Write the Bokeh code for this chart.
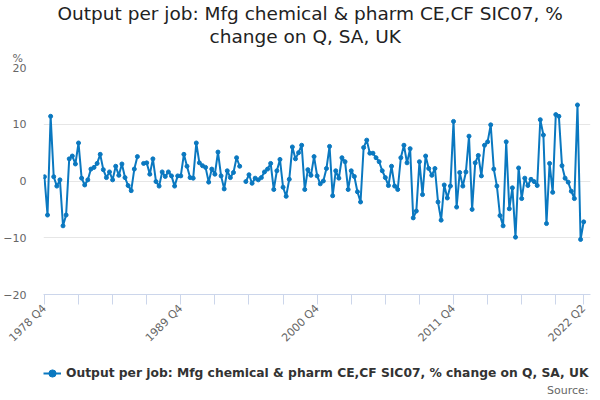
import math
from bokeh.plotting import figure
from bokeh.layouts import column
from bokeh.models import (ColumnDataSource, FixedTicker, Legend, LegendItem,
                          Title, Label, Range1d)
from bokeh.embed import file_html
from bokeh.resources import INLINE

# quarterly periods, 1978 Q4 .. 2022 Q2
quarters = []
yr, qt = 1978, 4
while (yr, qt) <= (2022, 2):
    quarters.append(f"{yr} Q{qt}")
    qt += 1
    if qt > 4:
        yr, qt = yr + 1, 1

# % change on previous quarter (None = no value)
pct_change = [
    0.75, -6.0, 11.4, 0.75, -0.9, 0.2, -7.9, -6.0, 3.9, 4.4,
    3.0, 6.7, 0.5, -0.7, 0.2, 2.1, 2.4, 3.1, 4.7, 2.0,
    0.6, 1.6, 0.2, 2.6, 1.0, 3.0, 0.6, -0.8, -1.7, 2.1,
    4.3, None, 3.1, 3.2, 1.2, 3.9, -0.1, -0.9, 1.6, 0.8,
    1.6, 0.9, -0.9, 0.9, 0.9, 4.7, 2.6, 0.6, 0.5, 6.7,
    3.2, 2.7, 2.4, -0.2, 2.1, 1.2, 5.1, 0.9, -1.4, 1.8,
    0.6, 1.5, 4.1, 2.6, None, -0.1, 1.1, -0.4, 0.5, 0.2,
    0.6, 1.6, 2.1, 3.1, -1.5, 1.8, 3.8, -1.1, -2.7, 0.3,
    6.0, 3.9, 5.0, 6.3, -1.5, 2.0, 1.0, 4.3, 0.9, -0.5,
    0.0, 2.2, 6.1, -2.6, 1.8, 0.5, 4.1, 3.4, -1.5, 1.8,
    0.8, -1.9, -3.7, 5.9, 7.2, 4.9, 4.9, 4.1, 3.4, 1.8,
    0.6, -0.8, 2.6, -0.9, -1.5, 4.1, 6.3, 3.2, 5.7, -6.5,
    -5.3, 3.4, -2.4, 4.4, 2.2, 1.0, 2.2, -3.7, -6.9, -0.7,
    -3.0, -0.9, 10.5, -4.6, 1.5, -0.9, 1.6, 7.9, -5.0, 3.2,
    4.5, 0.9, 6.3, 6.9, 9.9, 2.1, -0.9, -6.1, -7.9, 6.9,
    -4.9, -1.2, -9.9, 2.3, -3.1, 0.5, -0.8, 0.3, -0.1, -0.8,
    10.8, 8.1, -7.5, 3.1, -2.0, 11.7, 11.4, 2.7, 0.5, -0.2,
    -1.8, -3.1, 13.4, -10.3, -7.2,
]

tick_labels = ["1978 Q4", "1989 Q4", "2000 Q4", "2011 Q4", "2022 Q2"]
series_name = "Output per job: Mfg chemical & pharm CE,CF SIC07, % change on Q, SA, UK"
title_lines = ["Output per job: Mfg chemical & pharm CE,CF SIC07, %",
               "change on Q, SA, UK"]

BLUE = "#0a78c0"
GREY = "#666666"
FONT = "DejaVu Sans"
W = 596

xs = list(range(len(quarters)))
ys = [math.nan if v is None else v for v in pct_change]
src = ColumnDataSource(dict(x=xs, y=ys, q=quarters))
pts = ColumnDataSource(dict(x=[x for x, v in zip(xs, pct_change) if v is not None],
                            y=[v for v in pct_change if v is not None]))

p = figure(width=W, height=352, output_backend="svg", toolbar_location=None,
           x_range=Range1d(-0.3, len(quarters) + 1.2), y_range=Range1d(-20, 20),
           min_border_left=43, min_border_right=6, min_border_top=67,
           min_border_bottom=55)
p.outline_line_color = None

p.line("x", "y", source=src, line_color=BLUE, line_width=2)
p.scatter("x", "y", source=pts, size=4, color=BLUE)

# y axis
p.yaxis.ticker = FixedTicker(ticks=[-20, -10, 0, 10, 20])
p.yaxis.axis_line_color = None
p.yaxis.major_tick_line_color = None
p.yaxis.minor_tick_line_color = None
p.yaxis.major_label_standoff = 11
p.yaxis.major_label_text_color = GREY
p.yaxis.major_label_text_font = FONT
p.yaxis.major_label_text_font_size = "11px"
p.ygrid.grid_line_color = "#e6e6e6"
p.xgrid.grid_line_color = None

# x axis: a tick every 11 quarters plus the last one
ticks = list(range(0, len(quarters), 11)) + [len(quarters) - 1]
p.xaxis.ticker = FixedTicker(ticks=ticks)
p.xaxis.major_label_overrides = {t: (quarters[t] if quarters[t] in tick_labels else "")
                                 for t in ticks}
p.xaxis.major_label_orientation = math.pi / 4
p.xaxis.axis_line_color = "#ccd6eb"
p.xaxis.major_tick_line_color = "#ccd6eb"
p.xaxis.minor_tick_line_color = None
p.xaxis.major_tick_out = 10
p.xaxis.major_tick_in = 0
p.xaxis.major_label_standoff = 2
p.xaxis.major_label_text_color = GREY
p.xaxis.major_label_text_font = FONT
p.xaxis.major_label_text_font_size = "11px"

# above the plot: unit, then the two title lines (added innermost first)
p.add_layout(Title(text="%", align="left", offset=-31, standoff=6,
                   text_font=FONT, text_font_size="11px", text_color=GREY,
                   text_font_style="normal"), "above")
p.add_layout(Title(text=title_lines[1], align="left", offset=166, standoff=0,
                   text_font=FONT, text_font_size="18.5px", text_color="#222222",
                   text_font_style="normal"), "above")
p.add_layout(Title(text=title_lines[0], align="left", offset=14, standoff=0,
                   text_font=FONT, text_font_size="18.5px", text_color="#222222",
                   text_font_style="normal"), "above")

# strip below the chart: legend and source (frame lined up with the chart's).
# The key renderers reuse the series but the strip's ranges keep them out of view.
foot = figure(width=W, height=44, output_backend="svg", toolbar_location=None,
              x_range=Range1d(-20, -10), y_range=Range1d(-100, -90),
              x_axis_type=None, y_axis_type=None,
              min_border_left=43, min_border_right=6,
              min_border_top=0, min_border_bottom=0)
foot.outline_line_color = None
foot.grid.grid_line_color = None
key_line = foot.line("x", "y", source=src, line_color=BLUE, line_width=2)
key_pts = foot.scatter("x", "y", source=pts, size=4, color=BLUE)

legend = Legend(items=[LegendItem(label=series_name, renderers=[key_line, key_pts])],
                location=(0, 13), orientation="horizontal",
                border_line_color=None, background_fill_alpha=0,
                padding=0, margin=0, glyph_width=18, glyph_height=20,
                label_standoff=5, label_height=20,
                label_text_font=FONT, label_text_font_style="bold",
                label_text_font_size="12.3px", label_text_color="#333333")
foot.add_layout(legend)
foot.add_layout(Label(x=545, y=6, x_units="screen", y_units="screen",
                      text="Source:", text_align="right", text_baseline="middle",
                      text_font=FONT, text_font_size="11px", text_color=GREY))

open("out.html", "w").write(file_html(column(p, foot, spacing=0), INLINE))
